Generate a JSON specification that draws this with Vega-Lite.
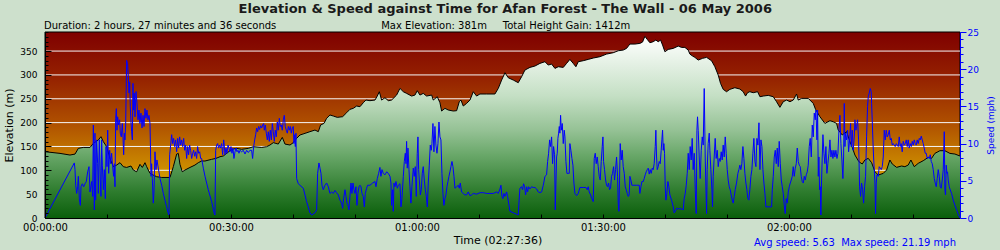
{
"$schema": "https://vega.github.io/schema/vega-lite/v6.json",
"width": 915, "height": 186,
"autosize": {"type": "none"},
"padding": {"left": 45, "top": 32, "right": 40, "bottom": 32},
"background": "#cde0cc",
"title": {
 "text": "\u200b\u00a0\u00a0\u00a0\u00a0\u00a0\u00a0\u00a0\u00a0\u00a0\u00a0\u00a0\u00a0\u00a0\u00a0\u00a0\u00a0\u00a0\u00a0\u00a0\u00a0\u00a0\u00a0\u00a0\u00a0\u00a0\u00a0\u00a0\u00a0\u00a0\u00a0\u00a0\u00a0\u00a0\u00a0\u00a0\u00a0\u00a0\u00a0\u00a0\u00a0\u00a0\u00a0\u00a0Elevation & Speed against Time for Afan Forest - The Wall - 06 May 2006",
 "subtitle": "Duration: 2 hours, 27 minutes and 36 seconds\u00a0\u00a0\u00a0\u00a0\u00a0\u00a0\u00a0\u00a0\u00a0\u00a0\u00a0\u00a0\u00a0\u00a0\u00a0\u00a0\u00a0\u00a0\u00a0\u00a0\u00a0\u00a0\u00a0\u00a0\u00a0\u00a0\u00a0\u00a0\u00a0\u00a0\u00a0\u00a0\u00a0Max Elevation: 381m\u00a0\u00a0\u00a0\u00a0\u00a0Total Height Gain: 1412m",
 "anchor": "start", "frame": "group", "dx": -1, "offset": -3,
 "font": "DejaVu Sans", "fontSize": 13, "fontWeight": "bold", "color": "#1a1a1a",
 "subtitleFont": "DejaVu Sans", "subtitleFontSize": 10, "subtitleColor": "#000000", "subtitlePadding": 5.5
},
"datasets": {
 "one": [{}],
 "grid": [{"g":50},{"g":100},{"g":150},{"g":200},{"g":250},{"g":300},{"g":350}],
 "elev": [
{"t":0,"e":139},{"t":2.42,"e":135.5},{"t":4.03,"e":132},{"t":4.84,"e":134},{"t":5.38,"e":146},{"t":6.18,"e":148},{"t":7.26,"e":148},{"t":7.8,"e":156.5},{"t":8.6,"e":163.5},{"t":9.03,"e":170.5},{"t":9.41,"e":160},{"t":9.95,"e":149.5},{"t":10.48,"e":125},{"t":11.02,"e":107.6},{"t":11.56,"e":111},{"t":12.1,"e":116},{"t":12.63,"e":107.6},{"t":13.17,"e":106},{"t":13.87,"e":109},{"t":14.25,"e":100.6},{"t":14.78,"e":97},{"t":15.32,"e":112.5},{"t":15.7,"e":106},{"t":16.13,"e":116},{"t":16.4,"e":107.6},{"t":16.94,"e":93.6},{"t":17.47,"e":90},{"t":18.01,"e":86.6},{"t":18.82,"e":85},{"t":20.16,"e":85},{"t":20.7,"e":107.6},{"t":21.24,"e":134},{"t":21.5,"e":135.5},{"t":21.77,"e":112.5},{"t":22.15,"e":97},{"t":22.58,"e":100.6},{"t":23.39,"e":106},{"t":24.19,"e":111},{"t":24.73,"e":116},{"t":25.27,"e":119.5},{"t":25.81,"e":119.5},{"t":26.88,"e":123},{"t":27.58,"e":125},{"t":28.23,"e":128.5},{"t":28.76,"e":130},{"t":29.3,"e":135.5},{"t":30.11,"e":144},{"t":30.91,"e":146},{"t":31.72,"e":144},{"t":32.8,"e":146},{"t":33.6,"e":149.5},{"t":34.95,"e":148},{"t":35.75,"e":149.5},{"t":36.29,"e":153},{"t":36.83,"e":158},{"t":37.63,"e":155},{"t":38.28,"e":169},{"t":38.71,"e":155},{"t":39.52,"e":153},{"t":40.05,"e":158},{"t":40.59,"e":167},{"t":41.13,"e":174},
{"t":41.94,"e":177.5},{"t":42.74,"e":181},{"t":43.55,"e":184.4},{"t":44.09,"e":181},{"t":44.46,"e":195},{"t":45.0,"e":198.4},{"t":45.43,"e":209},{"t":45.97,"e":216},{"t":46.51,"e":213.8},{"t":47.15,"e":211},{"t":48.01,"e":212.4},{"t":48.66,"e":220.8},{"t":49.19,"e":227.8},{"t":49.73,"e":229.9},{"t":50.27,"e":234.8},{"t":50.81,"e":233.4},{"t":51.34,"e":241.7},{"t":51.77,"e":247.3},{"t":52.42,"e":246},{"t":53.23,"e":247.3},{"t":53.6,"e":255.7},{"t":53.93,"e":264.8},{"t":54.3,"e":247.3},{"t":54.84,"e":252.2},{"t":55.38,"e":246},{"t":55.91,"e":247.3},{"t":56.72,"e":257.8},{"t":57.26,"e":271.8},{"t":57.8,"e":264.8},{"t":58.33,"e":261.3},{"t":59.14,"e":255.7},{"t":59.68,"e":257.8},{"t":60.05,"e":266.9},{"t":60.48,"e":257.8},{"t":61.02,"e":261.3},{"t":61.56,"e":255.7},{"t":62.37,"e":257.8},{"t":62.63,"e":247.3},{"t":63.28,"e":254.3},{"t":63.71,"e":241.7},{"t":63.98,"e":224.3},{"t":64.52,"e":229.9},{"t":65.05,"e":226.4},{"t":65.86,"e":224.3},{"t":66.4,"e":225},{"t":66.83,"e":243.8},{"t":67.1,"e":247.3},{"t":67.47,"e":234.8},{"t":68.01,"e":240.3},{"t":68.55,"e":247.3},{"t":69.09,"e":264.8},{"t":69.62,"e":255.7},{"t":70.16,"e":260},{"t":71.24,"e":260},{"t":72.58,"e":260},{"t":73.12,"e":271.8},{"t":73.66,"e":289.2},{"t":74.2,"e":304.6},{"t":74.73,"e":294.1},{"t":75.54,"e":289.2},{"t":76.34,"e":283.7},{"t":76.88,"e":296.2},{"t":77.42,"e":310.2},{"t":78.23,"e":315.8},{"t":79.03,"e":318.6},{"t":79.84,"e":324.2},{"t":80.65,"e":327.7},{"t":81.18,"e":320.7},{"t":81.72,"e":322.8},{"t":82.26,"e":313.7},{"t":82.8,"e":317.2},
{"t":83.6,"e":315.8},{"t":84.14,"e":324.2},{"t":84.67,"e":332.6},{"t":85.21,"e":324.2},{"t":85.64,"e":317.2},{"t":86.02,"e":327.7},{"t":86.82,"e":329.8},{"t":87.63,"e":332.6},{"t":88.44,"e":335.4},{"t":89.51,"e":338.2},{"t":90.59,"e":343.7},{"t":91.66,"e":346.5},{"t":92.47,"e":350.7},{"t":93.27,"e":352.1},{"t":93.81,"e":355.6},{"t":94.35,"e":364.7},{"t":95.16,"e":364.7},{"t":95.96,"e":366.1},{"t":96.39,"e":368.9},{"t":96.77,"e":381},{"t":97.15,"e":374.5},{"t":97.58,"e":367.5},{"t":98.11,"e":369.6},{"t":98.54,"e":373.1},{"t":98.92,"e":369.6},{"t":99.3,"e":373.1},{"t":99.62,"e":362.6},{"t":100.0,"e":348.6},{"t":100.53,"e":353.5},{"t":101.34,"e":355.6},{"t":102.15,"e":360.5},{"t":102.68,"e":357.7},{"t":103.22,"e":357.7},{"t":103.76,"e":352.1},{"t":104.03,"e":343.7},{"t":104.46,"e":339.6},{"t":104.83,"e":336.8},{"t":105.37,"e":331.2},{"t":106.07,"e":334.7},{"t":106.72,"e":336.8},{"t":107.52,"e":329.8},{"t":108.06,"e":317.2},{"t":108.6,"e":299.7},{"t":108.97,"e":282.3},{"t":109.4,"e":269.7},{"t":109.94,"e":264.8},{"t":110.48,"e":269.7},{"t":111.28,"e":273.2},{"t":112.09,"e":270.4},{"t":112.63,"e":264.8},{"t":113.01,"e":255.7},{"t":113.33,"e":262.7},{"t":113.7,"e":264.8},{"t":114.24,"e":262.7},
{"t":114.95,"e":264.8},{"t":115.33,"e":254.3},{"t":115.86,"e":255.7},{"t":116.67,"e":257.1},{"t":117.48,"e":254.3},{"t":118.01,"e":243.8},{"t":118.55,"e":232},{"t":119.09,"e":243.8},{"t":119.63,"e":247.3},{"t":120.17,"e":243.8},{"t":120.7,"e":247.3},{"t":121.24,"e":259.9},{"t":121.51,"e":247.3},{"t":122.05,"e":250.8},{"t":123.12,"e":250.8},{"t":123.93,"e":240.3},{"t":124.3,"e":227.8},{"t":125.0,"e":212.4},{"t":125.81,"e":198.4},{"t":126.62,"e":204},{"t":127.15,"e":201.9},{"t":127.69,"e":198.4},{"t":127.96,"e":184.4},{"t":128.61,"e":174},{"t":129.3,"e":181},{"t":129.84,"e":160},{"t":130.22,"e":148.1},{"t":130.65,"e":132},{"t":131.29,"e":118.1},{"t":131.83,"e":113.2},{"t":132.26,"e":121.6},{"t":132.8,"e":125},{"t":133.34,"e":116},{"t":133.88,"e":97.1},{"t":134.41,"e":90.1},{"t":135.22,"e":93.6},{"t":135.76,"e":100.6},{"t":136.29,"e":121.6},{"t":136.67,"e":113.2},{"t":137.37,"e":106.2},{"t":138.18,"e":109},{"t":138.71,"e":107.6},{"t":139.25,"e":111.1},{"t":139.68,"e":121.6},{"t":140.22,"e":107.6},{"t":140.86,"e":114.6},{"t":141.67,"e":120.2},{"t":142.48,"e":127.2},{"t":143.01,"e":125},{"t":143.55,"e":135.5},{"t":144.36,"e":141.1},{"t":145.16,"e":141.1},{"t":145.97,"e":135.5},{"t":146.78,"e":134.1},{"t":147.6,"e":130}
 ],
 "speed": [
{"t":0,"s":0},{"t":4.73,"s":7.4},{"t":4.84,"s":6.5},{"t":4.95,"s":4.4},{"t":5.11,"s":3.3},{"t":5.27,"s":4.2},{"t":5.38,"s":5.6},{"t":5.54,"s":2.6},{"t":5.7,"s":1.7},{"t":5.81,"s":4.2},{"t":6.02,"s":4.6},{"t":6.24,"s":4.2},{"t":6.45,"s":4.6},{"t":6.67,"s":4.9},{"t":6.88,"s":6.2},{"t":7.1,"s":6.9},{"t":7.26,"s":3.5},{"t":7.53,"s":4.9},{"t":7.69,"s":2.9},{"t":7.8,"s":12.5},{"t":7.96,"s":1.1},{"t":8.06,"s":11.4},{"t":8.17,"s":2.4},{"t":8.33,"s":10.5},{"t":8.49,"s":7.3},{"t":8.6,"s":3.3},{"t":8.76,"s":10.5},{"t":8.92,"s":5.1},{"t":9.03,"s":2.9},{"t":9.14,"s":10.5},{"t":9.25,"s":7.1},{"t":9.41,"s":3.8},{"t":9.57,"s":6.5},{"t":9.73,"s":2.6},{"t":9.84,"s":9.6},{"t":10.0,"s":6.9},{"t":10.11,"s":11.8},{"t":10.27,"s":6.0},{"t":10.43,"s":9.1},{"t":10.59,"s":7.3},{"t":10.75,"s":8.7},{"t":10.91,"s":6.9},{"t":11.08,"s":5.6},{"t":11.18,"s":7.3},{"t":11.29,"s":4.2},{"t":11.4,"s":13.4},{"t":11.51,"s":14.7},{"t":11.61,"s":11.8},{"t":11.72,"s":13.6},{"t":11.88,"s":12.5},{"t":12.04,"s":13.2},{"t":12.15,"s":11.4},{"t":12.31,"s":10.9},{"t":12.47,"s":12.7},{"t":12.58,"s":10.9},{"t":12.69,"s":8.5},{"t":12.8,"s":11.4},{"t":12.9,"s":10.5},{"t":13.01,"s":12.5},{"t":13.17,"s":21.19},{"t":13.33,"s":20.6},{"t":13.44,"s":19.0},{"t":13.55,"s":16.8},{"t":13.66,"s":18.3},{"t":13.76,"s":15.0},{"t":13.87,"s":12.9},{"t":13.98,"s":11.6},{"t":14.09,"s":10.5},{"t":14.19,"s":18.1},{"t":14.3,"s":14.5},{"t":14.41,"s":16.8},{"t":14.52,"s":13.6},{"t":14.68,"s":17.0},{"t":14.84,"s":15.4},{"t":15.0,"s":13.2},{"t":15.16,"s":14.5},{"t":15.32,"s":12.7},{"t":15.48,"s":14.1},{"t":15.65,"s":12.1},{"t":15.81,"s":13.8},{"t":15.97,"s":12.3},{"t":16.13,"s":14.7},{"t":16.29,"s":13.4},{"t":16.45,"s":14.5},{"t":16.61,"s":13.2},{"t":16.77,"s":13.8},{"t":16.94,"s":12.7},{"t":17.1,"s":5.6},{"t":17.2,"s":7.3},{"t":17.31,"s":5.3},{"t":17.47,"s":2.0},{"t":17.58,"s":3.5},{"t":17.74,"s":8.9},{"t":17.9,"s":6.5},{"t":18.06,"s":7.8},{"t":18.28,"s":6.7},{"t":18.55,"s":5.3},{"t":18.82,"s":4.4},{"t":19.09,"s":3.3},{"t":19.35,"s":2.4},{"t":19.62,"s":1.5},{"t":19.89,"s":0.6},{"t":20.0,"s":0.4},{"t":20.11,"s":8.5},{"t":20.27,"s":9.8},{"t":20.43,"s":11.2},{"t":20.59,"s":10.0},{"t":20.75,"s":10.7},{"t":20.91,"s":9.6},{"t":21.08,"s":10.5},{"t":21.24,"s":8.9},{"t":21.4,"s":10.7},{"t":21.56,"s":9.4},{"t":21.72,"s":10.9},{"t":21.88,"s":9.8},{"t":22.04,"s":10.5},{"t":22.2,"s":9.6},{"t":22.37,"s":10.7},{"t":22.53,"s":9.1},{"t":22.69,"s":9.8},{"t":22.85,"s":8.0},{"t":23.01,"s":9.6},{"t":23.17,"s":8.5},{"t":23.33,"s":9.8},{"t":23.49,"s":9.1},{"t":23.66,"s":8.0},{"t":23.82,"s":8.7},{"t":23.98,"s":9.1},{"t":24.14,"s":8.3},{"t":24.3,"s":8.9},{"t":24.46,"s":8.0},{"t":24.62,"s":9.6},{"t":24.78,"s":8.7},{"t":24.95,"s":8.9},{"t":25.11,"s":8.0},{"t":25.27,"s":8.0},{"t":25.54,"s":6.7},{"t":25.81,"s":5.6},{"t":26.34,"s":3.8},{"t":26.88,"s":2.2},{"t":27.31,"s":0.6},{"t":27.42,"s":0.4},{"t":27.53,"s":9.1},{"t":27.69,"s":9.8},{"t":27.85,"s":10.0},{"t":28.01,"s":9.4},{"t":28.17,"s":9.8},{"t":28.33,"s":9.4},{"t":28.49,"s":10.0},{"t":28.66,"s":8.5},{"t":28.82,"s":10.5},{"t":28.92,"s":9.8},{"t":29.03,"s":8.5},{"t":29.19,"s":9.4},{"t":29.35,"s":8.7},{"t":29.52,"s":9.8},{"t":29.68,"s":9.4},{"t":29.84,"s":8.9},{"t":30.0,"s":9.6},{"t":30.16,"s":8.7},{"t":30.32,"s":9.4},{"t":30.48,"s":8.0},{"t":30.65,"s":8.9},{"t":30.81,"s":9.4},{"t":30.97,"s":8.9},{"t":31.13,"s":9.1},{"t":31.29,"s":8.7},{"t":31.45,"s":9.1},{"t":31.72,"s":8.9},{"t":31.99,"s":9.1},{"t":32.26,"s":8.6},{"t":32.53,"s":9.1},{"t":32.8,"s":8.8},{"t":33.06,"s":9.1},{"t":33.33,"s":9.1},{"t":33.49,"s":8.0},{"t":33.66,"s":9.6},{"t":33.82,"s":10.5},{"t":33.98,"s":11.2},{"t":34.14,"s":12.1},{"t":34.3,"s":11.6},{"t":34.46,"s":12.3},{"t":34.62,"s":11.9},{"t":34.78,"s":12.4},{"t":34.95,"s":12.1},{"t":35.11,"s":12.5},{"t":35.27,"s":12.7},{"t":35.38,"s":11.8},{"t":35.54,"s":12.5},{"t":35.7,"s":11.4},{"t":35.86,"s":10.5},{"t":36.02,"s":11.6},{"t":36.18,"s":10.3},{"t":36.34,"s":11.8},{"t":36.51,"s":10.5},{"t":36.67,"s":12.7},{"t":36.83,"s":11.6},{"t":36.99,"s":10.3},{"t":37.15,"s":11.8},{"t":37.31,"s":10.9},{"t":37.47,"s":12.9},{"t":37.63,"s":11.8},{"t":37.8,"s":13.4},{"t":37.96,"s":12.3},{"t":38.12,"s":12.5},{"t":38.28,"s":11.8},{"t":38.44,"s":13.2},{"t":38.6,"s":13.8},{"t":38.76,"s":12.3},{"t":38.92,"s":11.8},{"t":39.09,"s":11.4},{"t":39.25,"s":12.3},{"t":39.41,"s":11.8},{"t":39.57,"s":12.3},{"t":39.73,"s":11.4},{"t":39.89,"s":12.1},{"t":40.05,"s":12.3},{"t":40.16,"s":10.0},{"t":40.27,"s":11.2},{"t":40.38,"s":9.6},{"t":40.48,"s":11.4},{"t":40.59,"s":5.3},{"t":40.86,"s":4.6},{"t":41.13,"s":4.4},
{"t":41.67,"s":4.0},{"t":42.2,"s":2.2},{"t":42.74,"s":0.7},{"t":43.01,"s":0.4},{"t":43.55,"s":0.7},{"t":43.82,"s":1.1},{"t":43.98,"s":6.0},{"t":44.19,"s":7.4},{"t":44.36,"s":6.7},{"t":44.52,"s":6.0},{"t":44.68,"s":4.4},{"t":44.89,"s":3.8},{"t":45.16,"s":4.4},{"t":45.43,"s":4.7},{"t":45.7,"s":4.2},{"t":45.97,"s":3.3},{"t":46.24,"s":3.5},{"t":46.51,"s":3.3},{"t":46.78,"s":3.7},{"t":47.04,"s":3.4},{"t":47.31,"s":3.1},{"t":47.58,"s":2.4},{"t":47.85,"s":2.0},{"t":48.01,"s":1.3},{"t":48.17,"s":2.6},{"t":48.39,"s":3.8},{"t":48.55,"s":2.9},{"t":48.71,"s":2.0},{"t":48.87,"s":1.7},{"t":49.03,"s":1.1},{"t":49.19,"s":2.9},{"t":49.36,"s":4.7},{"t":49.52,"s":3.3},{"t":49.68,"s":4.7},{"t":49.84,"s":3.8},{"t":50.0,"s":3.3},{"t":50.16,"s":4.2},{"t":50.32,"s":1.7},{"t":50.48,"s":3.3},{"t":50.65,"s":4.2},{"t":50.81,"s":4.4},{"t":50.97,"s":4.2},{"t":51.13,"s":3.3},{"t":51.34,"s":2.9},{"t":51.51,"s":1.5},{"t":51.67,"s":3.3},{"t":51.88,"s":4.0},{"t":52.04,"s":4.4},{"t":52.42,"s":4.4},{"t":52.85,"s":4.7},{"t":53.23,"s":4.9},{"t":53.39,"s":4.2},{"t":53.6,"s":5.3},{"t":53.82,"s":6.0},{"t":54.03,"s":6.8},{"t":54.19,"s":5.6},{"t":54.36,"s":6.5},{"t":54.57,"s":6.0},{"t":54.84,"s":5.8},{"t":55.11,"s":6.2},{"t":55.38,"s":6.0},{"t":55.65,"s":5.6},{"t":55.81,"s":4.7},{"t":55.91,"s":1.7},{"t":56.08,"s":3.8},{"t":56.18,"s":0.9},{"t":56.29,"s":4.7},{"t":56.45,"s":4.2},{"t":56.61,"s":4.9},{"t":56.83,"s":4.0},{"t":56.99,"s":4.4},{"t":57.26,"s":4.6},{"t":57.42,"s":1.5},{"t":57.58,"s":2.6},{"t":57.8,"s":5.6},{"t":57.96,"s":7.6},{"t":58.12,"s":8.7},{"t":58.23,"s":7.3},{"t":58.33,"s":10.3},{"t":58.44,"s":6.7},{"t":58.55,"s":9.4},{"t":58.71,"s":6.5},{"t":58.87,"s":4.2},{"t":59.03,"s":2.0},{"t":59.19,"s":4.2},{"t":59.41,"s":6.7},{"t":59.57,"s":5.6},{"t":59.73,"s":6.9},{"t":59.89,"s":2.9},{"t":60.05,"s":8.7},{"t":60.16,"s":10.9},{"t":60.27,"s":6.5},{"t":60.38,"s":5.1},{"t":60.54,"s":3.1},{"t":60.7,"s":3.8},{"t":60.86,"s":6.0},{"t":61.02,"s":6.9},{"t":61.18,"s":5.1},{"t":61.35,"s":3.8},{"t":61.51,"s":2.9},{"t":61.67,"s":1.5},{"t":61.83,"s":4.7},{"t":61.99,"s":7.1},{"t":62.15,"s":9.8},{"t":62.31,"s":9.1},{"t":62.42,"s":10.0},{"t":62.58,"s":12.7},{"t":62.74,"s":8.9},{"t":62.9,"s":12.3},{"t":63.06,"s":9.8},{"t":63.23,"s":8.7},{"t":63.39,"s":10.0},{"t":63.55,"s":12.9},{"t":63.71,"s":10.9},{"t":63.87,"s":10.5},{"t":64.03,"s":6.0},{"t":64.19,"s":3.3},{"t":64.35,"s":1.7},{"t":64.52,"s":2.6},{"t":64.68,"s":3.1},{"t":64.84,"s":4.2},{"t":65.0,"s":4.9},{"t":65.16,"s":5.6},{"t":65.32,"s":6.2},{"t":65.48,"s":6.9},{"t":65.65,"s":7.6},{"t":65.81,"s":6.9},{"t":65.97,"s":5.6},{"t":66.13,"s":4.0},{"t":66.4,"s":4.2},{"t":66.67,"s":4.4},{"t":66.83,"s":4.0},{"t":66.99,"s":4.7},{"t":67.2,"s":3.5},{"t":67.47,"s":3.3},{"t":67.74,"s":3.1},{"t":68.01,"s":3.1},{"t":68.28,"s":3.5},{"t":68.55,"s":3.0},{"t":68.82,"s":3.1},{"t":69.09,"s":3.3},{"t":69.62,"s":3.2},{"t":70.16,"s":3.4},{"t":70.7,"s":3.4},{"t":71.24,"s":3.3},{"t":71.77,"s":3.3},{"t":72.31,"s":3.3},{"t":72.85,"s":3.5},{"t":73.12,"s":3.3},{"t":73.39,"s":3.9},{"t":73.55,"s":4.4},{"t":73.71,"s":2.9},{"t":73.87,"s":2.6},{"t":74.03,"s":3.3},{"t":74.2,"s":2.9},{"t":74.46,"s":3.5},{"t":74.62,"s":2.9},{"t":74.79,"s":2.0},{"t":75.0,"s":0.9},{"t":75.54,"s":0.7},{"t":76.08,"s":0.5},{"t":76.34,"s":0.4},{"t":76.45,"s":2.0},{"t":76.61,"s":4.0},{"t":76.88,"s":4.2},{"t":77.04,"s":3.8},{"t":77.2,"s":4.6},{"t":77.37,"s":4.2},{"t":77.53,"s":3.1},{"t":77.69,"s":4.2},{"t":77.85,"s":3.5},{"t":78.01,"s":4.2},{"t":78.23,"s":3.9},{"t":78.49,"s":4.2},{"t":78.76,"s":4.1},{"t":79.03,"s":4.1},{"t":79.3,"s":3.9},{"t":79.57,"s":3.5},{"t":79.84,"s":3.4},{"t":80.11,"s":3.5},{"t":80.38,"s":4.4},{"t":80.65,"s":5.6},{"t":80.91,"s":5.8},{"t":81.08,"s":7.6},{"t":81.24,"s":8.7},{"t":81.4,"s":10.5},{"t":81.56,"s":9.6},{"t":81.72,"s":10.9},{"t":81.88,"s":7.3},{"t":82.04,"s":9.6},{"t":82.2,"s":8.5},{"t":82.31,"s":1.1},{"t":82.42,"s":4.7},{"t":82.53,"s":8.2},{"t":82.63,"s":8.7},{"t":82.74,"s":10.7},{"t":82.85,"s":11.4},{"t":82.96,"s":12.3},{"t":83.06,"s":11.4},{"t":83.17,"s":13.8},{"t":83.28,"s":11.8},{"t":83.44,"s":12.7},{"t":83.6,"s":10.0},{"t":83.76,"s":11.8},{"t":83.87,"s":10.9},
{"t":84.03,"s":7.6},{"t":84.19,"s":6.0},{"t":84.4,"s":6.0},{"t":84.57,"s":6.0},{"t":84.67,"s":10.0},{"t":84.83,"s":9.1},{"t":85.0,"s":8.0},{"t":85.16,"s":7.1},{"t":85.32,"s":4.7},{"t":85.48,"s":3.3},{"t":85.75,"s":3.0},{"t":86.02,"s":3.3},{"t":86.29,"s":4.1},{"t":86.82,"s":4.1},{"t":87.25,"s":4.1},{"t":87.47,"s":3.8},{"t":87.63,"s":4.2},{"t":87.79,"s":3.5},{"t":88.01,"s":3.1},{"t":88.22,"s":2.6},{"t":88.44,"s":2.2},{"t":88.6,"s":8.0},{"t":88.76,"s":8.7},{"t":88.92,"s":7.3},{"t":89.08,"s":8.2},{"t":89.24,"s":6.9},{"t":89.4,"s":5.6},{"t":89.57,"s":5.1},{"t":89.73,"s":7.6},{"t":89.89,"s":9.6},{"t":90.0,"s":10.9},{"t":90.1,"s":7.6},{"t":90.26,"s":6.5},{"t":90.43,"s":5.1},{"t":90.59,"s":4.4},{"t":90.75,"s":4.2},{"t":90.91,"s":4.7},{"t":91.07,"s":3.8},{"t":91.23,"s":4.0},{"t":91.39,"s":5.6},{"t":91.55,"s":6.0},{"t":91.72,"s":6.9},{"t":91.88,"s":5.1},{"t":92.04,"s":6.5},{"t":92.2,"s":8.2},{"t":92.36,"s":5.6},{"t":92.47,"s":2.0},{"t":92.58,"s":0.9},{"t":92.68,"s":5.1},{"t":92.79,"s":10.0},{"t":92.95,"s":7.8},{"t":93.11,"s":9.1},{"t":93.27,"s":6.9},{"t":93.44,"s":6.0},{"t":93.6,"s":4.2},{"t":93.76,"s":3.8},{"t":93.92,"s":3.3},{"t":94.08,"s":2.9},{"t":94.24,"s":3.1},{"t":94.35,"s":5.6},{"t":94.51,"s":5.1},{"t":94.67,"s":4.4},{"t":94.89,"s":4.4},{"t":95.43,"s":4.4},{"t":95.86,"s":4.4},{"t":95.96,"s":3.3},{"t":96.13,"s":4.2},{"t":96.29,"s":4.9},{"t":96.5,"s":4.9},{"t":96.66,"s":5.3},{"t":96.82,"s":5.8},{"t":96.98,"s":6.2},{"t":97.15,"s":6.5},{"t":97.31,"s":6.7},{"t":97.47,"s":5.9},{"t":97.63,"s":6.5},{"t":97.79,"s":6.0},{"t":97.95,"s":6.7},{"t":98.11,"s":6.5},{"t":98.27,"s":7.3},{"t":98.44,"s":9.6},{"t":98.54,"s":11.8},{"t":98.65,"s":8.2},{"t":98.76,"s":6.5},{"t":98.92,"s":6.9},{"t":99.08,"s":7.6},{"t":99.24,"s":7.3},{"t":99.4,"s":9.1},{"t":99.51,"s":10.5},{"t":99.62,"s":11.8},{"t":99.73,"s":9.1},{"t":99.83,"s":10.0},{"t":99.94,"s":8.7},{"t":100.05,"s":4.2},{"t":100.16,"s":2.4},{"t":100.32,"s":3.3},{"t":100.48,"s":4.9},{"t":100.64,"s":4.2},{"t":100.8,"s":3.1},{"t":101.07,"s":2.4},{"t":101.34,"s":1.5},{"t":101.5,"s":0.7},{"t":101.66,"s":0.9},{"t":101.88,"s":1.3},{"t":102.15,"s":1.2},{"t":102.42,"s":1.3},{"t":102.68,"s":1.2},{"t":102.95,"s":1.1},{"t":103.11,"s":2.6},{"t":103.28,"s":3.3},{"t":103.44,"s":4.4},{"t":103.6,"s":6.0},{"t":103.76,"s":8.7},{"t":103.92,"s":6.5},{"t":104.08,"s":9.6},{"t":104.24,"s":7.8},{"t":104.4,"s":10.7},{"t":104.56,"s":6.5},{"t":104.73,"s":8.7},{"t":104.89,"s":3.8},{"t":105.05,"s":0.6},{"t":105.16,"s":11.8},{"t":105.26,"s":13.6},{"t":105.37,"s":11.8},{"t":105.53,"s":8.2},{"t":105.69,"s":5.3},{"t":105.86,"s":9.1},{"t":106.02,"s":10.9},{"t":106.18,"s":9.8},{"t":106.34,"s":17.4},{"t":106.5,"s":8.2},{"t":106.61,"s":4.2},{"t":106.72,"s":0.6},{"t":106.82,"s":6.5},{"t":106.98,"s":10.0},{"t":107.15,"s":11.4},{"t":107.25,"s":9.1},{"t":107.41,"s":6.5},{"t":107.58,"s":3.8},{"t":107.68,"s":1.5},{"t":107.79,"s":5.6},{"t":107.95,"s":8.2},{"t":108.11,"s":10.7},{"t":108.27,"s":8.0},{"t":108.44,"s":9.1},{"t":108.6,"s":6.9},{"t":108.76,"s":8.0},{"t":108.92,"s":7.6},{"t":109.08,"s":8.9},{"t":109.24,"s":7.8},{"t":109.4,"s":9.8},{"t":109.57,"s":8.2},{"t":109.73,"s":10.9},{"t":109.89,"s":8.7},{"t":110.05,"s":6.5},{"t":110.21,"s":5.1},{"t":110.37,"s":4.2},{"t":110.53,"s":3.8},{"t":110.69,"s":3.1},{"t":110.86,"s":2.4},{"t":111.02,"s":2.0},{"t":111.18,"s":2.9},{"t":111.34,"s":3.8},{"t":111.55,"s":4.7},{"t":111.77,"s":6.0},{"t":111.93,"s":6.5},{"t":112.09,"s":7.1},{"t":112.25,"s":6.5},{"t":112.41,"s":7.3},{"t":112.58,"s":9.6},{"t":112.74,"s":8.0},{"t":112.9,"s":6.0},{"t":113.06,"s":4.7},{"t":113.22,"s":3.8},{"t":113.38,"s":2.6},{"t":113.54,"s":2.4},{"t":113.7,"s":3.8},{"t":113.87,"s":5.6},{"t":114.03,"s":6.5},{"t":114.19,"s":8.7},{"t":114.35,"s":10.7},
{"t":114.52,"s":7.6},{"t":114.68,"s":6.9},{"t":114.84,"s":10.7},{"t":115.0,"s":9.8},{"t":115.17,"s":12.8},{"t":115.33,"s":6.5},{"t":115.49,"s":10.5},{"t":115.65,"s":9.6},{"t":115.81,"s":6.5},{"t":115.97,"s":4.7},{"t":116.13,"s":3.3},{"t":116.29,"s":1.5},{"t":116.67,"s":1.5},{"t":117.21,"s":1.5},{"t":117.32,"s":3.8},{"t":117.48,"s":5.6},{"t":117.64,"s":8.2},{"t":117.8,"s":9.1},{"t":117.96,"s":7.3},{"t":118.12,"s":9.4},{"t":118.28,"s":6.9},{"t":118.44,"s":10.3},{"t":118.61,"s":7.3},{"t":118.77,"s":5.1},{"t":118.93,"s":4.2},{"t":119.09,"s":3.3},{"t":119.25,"s":1.7},{"t":119.41,"s":0.6},{"t":119.57,"s":2.6},{"t":119.73,"s":2.0},{"t":119.9,"s":3.5},{"t":120.06,"s":4.2},{"t":120.22,"s":4.7},{"t":120.38,"s":5.1},{"t":120.54,"s":5.6},{"t":120.7,"s":6.9},{"t":120.86,"s":5.6},{"t":121.03,"s":6.7},{"t":121.19,"s":7.3},{"t":121.35,"s":9.4},{"t":121.51,"s":7.6},{"t":121.67,"s":7.1},{"t":121.83,"s":6.9},{"t":121.99,"s":5.6},{"t":122.15,"s":4.9},{"t":122.32,"s":4.7},{"t":122.48,"s":5.6},{"t":122.64,"s":5.1},{"t":122.8,"s":5.8},{"t":122.96,"s":6.2},{"t":123.12,"s":7.1},{"t":123.28,"s":9.6},{"t":123.44,"s":10.7},{"t":123.61,"s":8.2},{"t":123.77,"s":12.5},{"t":123.93,"s":10.9},{"t":124.09,"s":14.1},{"t":124.25,"s":13.2},{"t":124.36,"s":14.5},{"t":124.52,"s":10.5},{"t":124.63,"s":14.5},{"t":124.74,"s":5.6},{"t":124.84,"s":8.2},{"t":124.95,"s":3.8},{"t":125.06,"s":4.2},{"t":125.16,"s":0.4},{"t":125.27,"s":5.1},{"t":125.38,"s":8.2},{"t":125.49,"s":11.2},{"t":125.65,"s":8.7},{"t":125.81,"s":7.3},{"t":125.97,"s":9.6},{"t":126.13,"s":6.0},{"t":126.29,"s":7.3},{"t":126.46,"s":8.7},{"t":126.62,"s":10.5},{"t":126.78,"s":8.2},{"t":126.94,"s":9.1},{"t":127.1,"s":8.0},{"t":127.26,"s":9.1},{"t":127.42,"s":8.2},{"t":127.58,"s":9.1},{"t":127.75,"s":8.0},{"t":127.91,"s":8.7},{"t":128.07,"s":11.8},{"t":128.23,"s":13.8},{"t":128.39,"s":10.0},{"t":128.55,"s":7.8},{"t":128.71,"s":5.3},{"t":128.82,"s":8.2},{"t":128.93,"s":15.4},{"t":129.04,"s":9.6},{"t":129.14,"s":11.4},{"t":129.3,"s":10.5},{"t":129.47,"s":11.8},{"t":129.63,"s":8.9},{"t":129.79,"s":10.5},{"t":129.95,"s":12.7},{"t":130.06,"s":9.6},{"t":130.22,"s":11.8},{"t":130.38,"s":9.1},{"t":130.54,"s":10.9},{"t":130.65,"s":13.2},{"t":130.81,"s":11.8},{"t":130.92,"s":12.3},{"t":131.08,"s":13.2},{"t":131.24,"s":10.5},{"t":131.4,"s":4.2},{"t":131.56,"s":2.9},{"t":131.72,"s":4.7},{"t":131.89,"s":3.8},{"t":132.05,"s":2.0},{"t":132.21,"s":4.2},{"t":132.37,"s":5.6},{"t":132.53,"s":10.9},{"t":132.69,"s":15.0},{"t":132.8,"s":16.3},{"t":132.96,"s":16.8},{"t":133.12,"s":17.4},{"t":133.28,"s":17.0},{"t":133.34,"s":15.4},{"t":133.44,"s":13.2},{"t":133.55,"s":10.5},{"t":133.66,"s":8.2},{"t":133.77,"s":6.5},{"t":133.88,"s":4.7},{"t":133.98,"s":0.6},{"t":134.09,"s":4.7},{"t":134.2,"s":5.8},{"t":134.41,"s":5.6},{"t":134.57,"s":6.9},{"t":134.74,"s":6.7},{"t":134.9,"s":6.5},{"t":135.06,"s":6.9},{"t":135.22,"s":8.2},{"t":135.38,"s":11.8},{"t":135.54,"s":10.5},{"t":135.7,"s":11.8},{"t":135.86,"s":10.9},{"t":136.03,"s":11.2},{"t":136.19,"s":11.8},{"t":136.35,"s":10.5},{"t":136.51,"s":10.7},{"t":136.67,"s":9.8},{"t":136.83,"s":10.0},{"t":136.99,"s":9.8},{"t":137.15,"s":9.6},{"t":137.32,"s":10.0},{"t":137.48,"s":9.8},{"t":137.64,"s":9.6},{"t":137.8,"s":10.9},{"t":137.96,"s":9.6},{"t":138.12,"s":10.0},{"t":138.28,"s":8.9},{"t":138.44,"s":10.3},{"t":138.61,"s":9.8},{"t":138.77,"s":10.0},{"t":138.93,"s":10.5},{"t":139.09,"s":9.6},{"t":139.25,"s":10.5},{"t":139.41,"s":9.4},{"t":139.57,"s":10.0},{"t":139.74,"s":9.6},{"t":139.9,"s":10.3},{"t":140.06,"s":9.8},{"t":140.22,"s":10.5},{"t":140.38,"s":10.0},{"t":140.54,"s":9.8},{"t":140.7,"s":10.5},{"t":140.86,"s":10.0},{"t":141.03,"s":10.7},{"t":141.19,"s":10.5},{"t":141.35,"s":11.0},{"t":141.51,"s":10.5},{"t":141.67,"s":10.0},{"t":141.83,"s":9.4},{"t":141.99,"s":8.7},{"t":142.15,"s":8.7},{"t":142.32,"s":8.0},{"t":142.48,"s":8.2},{"t":142.64,"s":8.0},{"t":142.8,"s":8.5},{"t":142.96,"s":7.6},{"t":143.12,"s":7.3},{"t":143.28,"s":6.5},{"t":143.45,"s":5.3},{"t":143.61,"s":4.7},{"t":143.77,"s":4.2},{"t":143.93,"s":5.3},{"t":144.09,"s":6.5},{"t":144.25,"s":5.6},{"t":144.41,"s":4.2},{"t":144.57,"s":4.0},{"t":144.74,"s":5.1},{"t":144.9,"s":6.5},{"t":145.06,"s":11.6},{"t":145.16,"s":3.8},{"t":145.27,"s":3.1},{"t":145.38,"s":7.1},{"t":145.49,"s":6.0},{"t":145.59,"s":6.2},{"t":145.7,"s":5.1},{"t":145.86,"s":4.2},{"t":146.02,"s":3.8},{"t":146.24,"s":3.3},{"t":146.51,"s":2.4},{"t":146.78,"s":1.7},{"t":147.05,"s":1.1},{"t":147.31,"s":0.5},{"t":147.6,"s":0}
 ]
},
"layer": [
 {"layer": [
  {"data": {"name": "one"},
   "mark": {"type": "rect", "stroke": "#000000", "strokeWidth": 1,
    "fill": {"gradient": "linear", "x1": 0, "y1": 0, "x2": 0, "y2": 1,
     "stops": [{"offset": 0, "color": "#7f0000"}, {"offset": 0.25, "color": "#952200"}, {"offset": 0.5, "color": "#b05200"}, {"offset": 0.7, "color": "#c88400"}, {"offset": 0.85, "color": "#d9a800"}, {"offset": 1, "color": "#e6be00"}]}},
   "encoding": {
    "x": {"datum": 0, "type": "quantitative", "scale": {"domain": [0, 147.6], "nice": false, "zero": false}},
    "x2": {"datum": 147.6},
    "y": {"datum": 0, "type": "quantitative", "scale": {"domain": [0, 390], "nice": false},
     "axis": {"orient": "left", "values": [0,10,20,30,40,50,60,70,80,90,100,110,120,130,140,150,160,170,180,190,200,210,220,230,240,250,260,270,280,290,300,310,320,330,340,350,360,370,380,390],
      "labelExpr": "datum.value % 50 === 0 ? datum.value : ''",
      "tickSize": {"condition": {"test": "datum.value % 50 === 0", "value": -6}, "value": -3},
      "tickColor": "#000000", "domainColor": "#000000", "labelPadding": 14,
      "labelFont": "DejaVu Sans", "labelFontSize": 9, "labelColor": "#000000", "labelOverlap": false, "labelFlush": false,
      "title": "Elevation (m)", "titleFont": "DejaVu Sans", "titleFontSize": 11, "titleFontWeight": "normal", "titleColor": "#000000", "titlePadding": 5,
      "grid": false, "zindex": 1}},
    "y2": {"datum": 390}}},
  {"data": {"name": "grid"},
   "mark": {"type": "rule", "color": "#f6f6f6", "strokeWidth": 1},
   "encoding": {"y": {"field": "g", "type": "quantitative", "scale": {"domain": [0, 390], "nice": false},
     "axis": {"orient": "left", "values": [0,10,20,30,40,50,60,70,80,90,100,110,120,130,140,150,160,170,180,190,200,210,220,230,240,250,260,270,280,290,300,310,320,330,340,350,360,370,380,390],
      "labelExpr": "datum.value % 50 === 0 ? datum.value : ''",
      "tickSize": {"condition": {"test": "datum.value % 50 === 0", "value": -6}, "value": -3},
      "tickColor": "#000000", "domainColor": "#000000", "labelPadding": 14,
      "labelFont": "DejaVu Sans", "labelFontSize": 9, "labelColor": "#000000", "labelOverlap": false, "labelFlush": false,
      "title": "Elevation (m)", "titleFont": "DejaVu Sans", "titleFontSize": 11, "titleFontWeight": "normal", "titleColor": "#000000", "titlePadding": 5,
      "grid": false, "zindex": 1}}}},
  {"data": {"name": "elev"},
   "mark": {"type": "area",
    "fill": {"gradient": "linear", "x1": 0, "y1": 0, "x2": 0, "y2": 1,
     "stops": [{"offset": 0, "color": "#ffffff"}, {"offset": 0.33, "color": "#c4dfc4"}, {"offset": 0.52, "color": "#94c194"}, {"offset": 0.65, "color": "#6aa86a"}, {"offset": 0.85, "color": "#2f7d2f"}, {"offset": 1, "color": "#0b5f0b"}]}},
   "encoding": {
    "x": {"field": "t", "type": "quantitative", "scale": {"domain": [0, 147.6], "nice": false, "zero": false},
     "axis": {"orient": "bottom", "values": [0,5,10,15,20,25,30,35,40,45,50,55,60,65,70,75,80,85,90,95,100,105,110,115,120,125,130,135,140,145],
      "labelExpr": "datum.value % 30 === 0 ? utcFormat(datum.value * 60000, '%H:%M:%S') : ''",
      "tickSize": -4, "tickColor": "#000000", "domainColor": "#000000", "labelPadding": 8,
      "labelFont": "DejaVu Sans", "labelFontSize": 10, "labelColor": "#000000", "labelFlush": false, "labelOverlap": false,
      "title": "Time (02:27:36)", "titleFont": "DejaVu Sans", "titleFontSize": 11, "titleFontWeight": "normal", "titleColor": "#000000", "titlePadding": 2, "titleX": 452.5,
      "grid": false, "zindex": 1}},
    "y": {"field": "e", "type": "quantitative", "scale": {"domain": [0, 390], "nice": false},
     "axis": {"orient": "left", "values": [0,10,20,30,40,50,60,70,80,90,100,110,120,130,140,150,160,170,180,190,200,210,220,230,240,250,260,270,280,290,300,310,320,330,340,350,360,370,380,390],
      "labelExpr": "datum.value % 50 === 0 ? datum.value : ''",
      "tickSize": {"condition": {"test": "datum.value % 50 === 0", "value": -6}, "value": -3},
      "tickColor": "#000000", "domainColor": "#000000", "labelPadding": 14,
      "labelFont": "DejaVu Sans", "labelFontSize": 9, "labelColor": "#000000", "labelOverlap": false, "labelFlush": false,
      "title": "Elevation (m)", "titleFont": "DejaVu Sans", "titleFontSize": 11, "titleFontWeight": "normal", "titleColor": "#000000", "titlePadding": 5,
      "grid": false, "zindex": 1}}}},
  {"data": {"name": "elev"},
   "mark": {"type": "line", "color": "#000000", "strokeWidth": 1},
   "encoding": {
    "x": {"field": "t", "type": "quantitative", "scale": {"domain": [0, 147.6], "nice": false, "zero": false}},
    "y": {"field": "e", "type": "quantitative", "scale": {"domain": [0, 390], "nice": false},
     "axis": {"orient": "left", "values": [0,10,20,30,40,50,60,70,80,90,100,110,120,130,140,150,160,170,180,190,200,210,220,230,240,250,260,270,280,290,300,310,320,330,340,350,360,370,380,390],
      "labelExpr": "datum.value % 50 === 0 ? datum.value : ''",
      "tickSize": {"condition": {"test": "datum.value % 50 === 0", "value": -6}, "value": -3},
      "tickColor": "#000000", "domainColor": "#000000", "labelPadding": 14,
      "labelFont": "DejaVu Sans", "labelFontSize": 9, "labelColor": "#000000", "labelOverlap": false, "labelFlush": false,
      "title": "Elevation (m)", "titleFont": "DejaVu Sans", "titleFontSize": 11, "titleFontWeight": "normal", "titleColor": "#000000", "titlePadding": 5,
      "grid": false, "zindex": 1}}}},
  {"data": {"name": "one"},
   "mark": {"type": "text", "align": "right", "baseline": "middle", "dx": -4, "dy": 25, "color": "#0000ff", "font": "DejaVu Sans", "fontSize": 10},
   "encoding": {
    "x": {"datum": 147.6, "type": "quantitative", "scale": {"domain": [0, 147.6], "nice": false, "zero": false}},
    "y": {"datum": 0, "type": "quantitative", "scale": {"domain": [0, 390], "nice": false},
     "axis": {"orient": "left", "values": [0,10,20,30,40,50,60,70,80,90,100,110,120,130,140,150,160,170,180,190,200,210,220,230,240,250,260,270,280,290,300,310,320,330,340,350,360,370,380,390],
      "labelExpr": "datum.value % 50 === 0 ? datum.value : ''",
      "tickSize": {"condition": {"test": "datum.value % 50 === 0", "value": -6}, "value": -3},
      "tickColor": "#000000", "domainColor": "#000000", "labelPadding": 14,
      "labelFont": "DejaVu Sans", "labelFontSize": 9, "labelColor": "#000000", "labelOverlap": false, "labelFlush": false,
      "title": "Elevation (m)", "titleFont": "DejaVu Sans", "titleFontSize": 11, "titleFontWeight": "normal", "titleColor": "#000000", "titlePadding": 5,
      "grid": false, "zindex": 1}},
    "text": {"value": "Avg speed: 5.63\u00a0\u00a0Max speed: 21.19 mph"}}}
 ]},
 {"data": {"name": "speed"},
  "mark": {"type": "line", "color": "#0000ff", "strokeWidth": 1},
  "encoding": {
   "x": {"field": "t", "type": "quantitative", "scale": {"domain": [0, 147.6], "nice": false, "zero": false}},
   "y": {"field": "s", "type": "quantitative", "scale": {"domain": [0, 25], "nice": false},
    "axis": {"orient": "right", "values": [0,1,2,3,4,5,6,7,8,9,10,11,12,13,14,15,16,17,18,19,20,21,22,23,24,25],
     "labelExpr": "datum.value % 5 === 0 ? datum.value : ''",
     "tickSize": {"condition": {"test": "datum.value % 5 === 0", "value": 6}, "value": 3},
     "tickColor": "#0000ff", "domainColor": "#0000ff", "labelPadding": 1,
     "labelFont": "DejaVu Sans", "labelFontSize": 9, "labelColor": "#0000ff", "labelOverlap": false, "labelFlush": false,
     "title": "Speed (mph)", "titleFont": "DejaVu Sans", "titleFontSize": 9, "titleFontWeight": "normal", "titleColor": "#0000ff", "titleAngle": 270, "titleBaseline": "top", "titlePadding": 8,
     "grid": false, "zindex": 1}}}}
],
"resolve": {"scale": {"y": "independent"}},
"config": {"view": {"stroke": null}, "axis": {"domainWidth": 1, "tickWidth": 1}}
}
